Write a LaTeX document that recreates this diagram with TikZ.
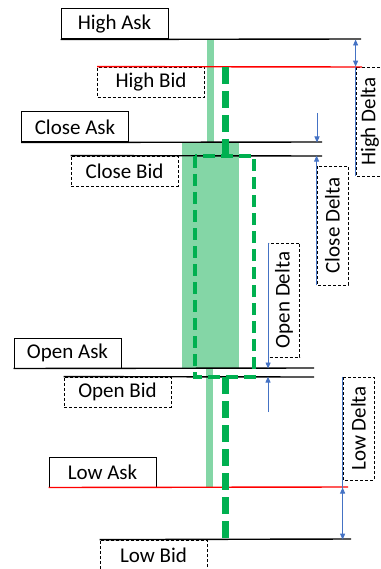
\documentclass[tikz,border=0pt]{standalone}
\usepackage{fontspec}
\setmainfont{Carlito}
\usetikzlibrary{arrows.meta}
\definecolor{deltablue}{HTML}{4472C4}
\definecolor{askgreen}{HTML}{84D6A6}
\definecolor{bidgreen}{HTML}{00B050}

\begin{document}
\begin{tikzpicture}[x=1pt, y=-1pt,
    font=\fontsize{21}{25}\selectfont,
    askbox/.style={draw, line width=1pt, minimum width=107pt, minimum height=30pt, inner sep=0pt},
    bidbox/.style={askbox, line width=0.8pt, dash pattern=on 3pt off 2pt},
    deltabox/.style={bidbox, rotate=90, minimum height=31pt},
    level/.style={line width=1.4pt},
    delta/.style={line width=0.9pt, deltablue},
    tip/.style={-{Triangle[length=6pt,width=5pt]}},
    tips/.style={{Triangle[length=6pt,width=5pt]}-{Triangle[length=6pt,width=5pt]}},
    wick/.style={bidgreen, line width=7pt, dash pattern=on 17pt off 7pt},
    body/.style={bidgreen, line width=4.5pt, dash pattern=on 12pt off 6pt}]
    \useasboundingbox (0,0) rectangle (380,569);

    % Ask candle
    \fill[askgreen] (206.5,39) rectangle (213.5,142);
    \fill[askgreen] (182,142) rectangle (239,368);
    \fill[askgreen] (206,368) rectangle (213,487);

    % Nodes
    \node[askbox] (highask) at (114.5,24) {High Ask};
    \node[bidbox] (highbid) at (151,82) {High Bid};
    \node[askbox] (closeask) at (75,127) {Close Ask};
    \node[bidbox] (closebid) at (124.5,171) {Close Bid};
    \node[askbox] (openask) at (67.5,353) {Open Ask};
    \node[bidbox] (openbid) at (117.5,392) {Open Bid};
    \node[askbox] (lowask) at (102.5,472) {Low Ask};
    \node[bidbox] (lowbid) at (153.5,555) {Low Bid};

    \node[deltabox, minimum width=109pt, minimum height=28pt] (highdelta) at (370,121.5) {High Delta};
    \node[deltabox, minimum width=119pt] (closedelta) at (332.5,225.5) {Close Delta};
    \node[deltabox, minimum width=114pt] (opendelta) at (284,300) {Open Delta};
    \node[deltabox, minimum width=103pt] (lowdelta) at (358.5,428.5) {Low Delta};

    % Line ends
    \coordinate (haend) at (361,39);
    \coordinate (hbend) at (362,67);
    \coordinate (caend) at (322,142);
    \coordinate (cbend) at (322,156);
    \coordinate (oaend) at (314,368);
    \coordinate (obend) at (314,377);
    \coordinate (laend) at (348,487);
    \coordinate (lbend) at (351,539);
    \coordinate (cdstart) at (317,113);
    \coordinate (odstart) at (268,412);

    % Levels
    \draw[level] (highask.south west) -- (haend);
    \draw[level, red] (highbid.north west) -- (hbend);
    \draw[level] (closeask.south west) -- (caend);
    \draw[level] (closebid.north west) -- (cbend);
    \draw[level] (openask.south west) -- (oaend);
    \draw[level] (openbid.north west) -- (obend);
    \draw[level, red] (lowask.south west) -- (laend);
    \draw[level] (lowbid.north west) -- (lbend);

    % Bid candle
    \draw[wick] (225,67) -- (225,156);
    \draw[body] (195,156) rectangle (254,377);
    \draw[wick] (225,377) -- (225,539);

    % Arrows
    \draw[delta, tips] (highdelta.north east |- highask.south) -- (highdelta.north east);
    \draw[delta] (highdelta.north east) -- (highdelta.north west);
    \draw[delta, tip] (cdstart) -- (cdstart |- closeask.south);
    \draw[delta, tip] (closedelta.north west) -- (closedelta.north west |- closebid.north);
    \draw[delta, tip] (opendelta.north east) -- (opendelta.north east |- openask.south);
    \draw[delta, tip] (odstart) -- (odstart |- openbid.north);
    \draw[delta] (lowdelta.north east) -- (lowdelta.north east |- lowask.south);
    \draw[delta, tips] (lowdelta.north east |- lowask.south) -- (lowdelta.north east |- lowbid.north);
\end{tikzpicture}
\end{document}
